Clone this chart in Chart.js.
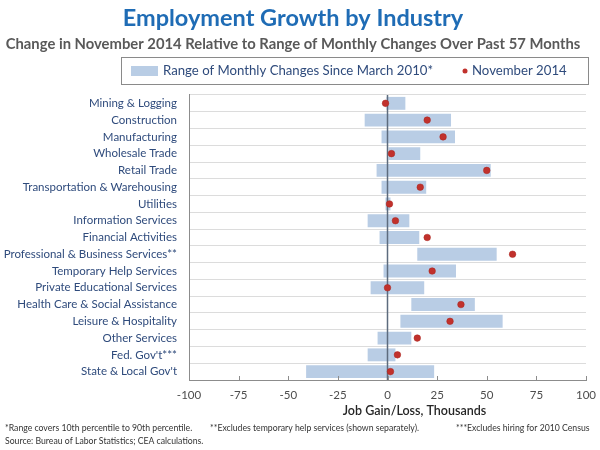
<!DOCTYPE html>
<html>
<head>
<meta charset="utf-8">
<title>Employment Growth by Industry</title>
<script src="https://cdn.jsdelivr.net/npm/chart.js@4.4.1/dist/chart.umd.min.js"></script>
<style>
    html, body { margin: 0; padding: 0; background: #ffffff; }
    #wrap { width: 600px; height: 450px; position: relative; }
</style>
</head>
<body>
<div id="wrap"><canvas id="chart"></canvas></div>
<script>
// === DATA ===
const industries = [
    "Mining & Logging", "Construction", "Manufacturing", "Wholesale Trade",
    "Retail Trade", "Transportation & Warehousing", "Utilities", "Information Services",
    "Financial Activities", "Professional & Business Services**", "Temporary Help Services",
    "Private Educational Services", "Health Care & Social Assistance", "Leisure & Hospitality",
    "Other Services", "Fed. Gov't***", "State & Local Gov't"
];
const rangeLow  = [-0.5, -11.5, -3, 0.5, -5.5, -3, -1, -10, -4, 15, -2, -8.5, 12, 6.5, -5, -10, -41];
const rangeHigh = [9, 32, 34, 16.5, 52, 19.5, 1.5, 11, 16, 55, 34.5, 18.5, 44, 58, 12, 4, 23.5];
const nov2014   = [-1, 20, 28, 2, 50, 16.5, 1, 4, 20, 63, 22.5, 0, 37, 31.5, 15, 5, 1.5];
const xTicks    = [-100, -75, -50, -25, 0, 25, 50, 75, 100];

const FONT = "Lato, 'Open Sans', sans-serif";
const BAR_COLOR = "#b9cde5";
const DOT_COLOR = "#c1312c";
const LABEL_COLOR = "#2f4b7c";

// floating bars need [low, high] pairs
const rangeBars = rangeLow.map((lo, i) => [lo, rangeHigh[i]]);

// === PLUGIN: zero line over the bars, inward ticks, legend box, footnotes ===
const extras = {
    id: "extras",
    afterDatasetDraw(chart, args) {
        if (args.index !== 0) return;
        const ctx = chart.ctx;
        const area = chart.chartArea;
        const x0 = chart.scales.x.getPixelForValue(0);
        ctx.save();
        ctx.strokeStyle = "#5d6b7e";
        ctx.lineWidth = 1.5;
        ctx.beginPath();
        ctx.moveTo(x0, area.top);
        ctx.lineTo(x0, area.bottom);
        ctx.stroke();
        ctx.restore();
    },
    afterDraw(chart) {
        const ctx = chart.ctx;
        const area = chart.chartArea;
        const xs = chart.scales.x;
        ctx.save();

        // small tick marks pointing up from the x axis
        ctx.strokeStyle = "#8c8c8c";
        ctx.lineWidth = 1;
        xTicks.forEach(v => {
            const px = Math.round(xs.getPixelForValue(v)) + 0.5;
            ctx.beginPath();
            ctx.moveTo(px, area.bottom - 4);
            ctx.lineTo(px, area.bottom);
            ctx.stroke();
        });

        // axis title, sits a bit right of centre like the original
        ctx.fillStyle = "#262626";
        ctx.font = "600 12.5px " + FONT;
        ctx.textAlign = "center";
        ctx.textBaseline = "middle";
        ctx.fillText("Job Gain/Loss, Thousands", (area.left + area.right) / 2 + 27, area.bottom + 31);

        // legend
        ctx.strokeStyle = "#8a8a8a";
        ctx.lineWidth = 1;
        ctx.strokeRect(121.5, 57.5, 467, 27);
        ctx.fillStyle = BAR_COLOR;
        ctx.fillRect(131, 66, 27, 10);
        ctx.fillStyle = LABEL_COLOR;
        ctx.font = "13.2px " + FONT;
        ctx.textAlign = "left";
        ctx.fillText("Range of Monthly Changes Since March 2010*", 163, 71);
        ctx.fillStyle = DOT_COLOR;
        ctx.beginPath();
        ctx.arc(465, 71, 2.5, 0, Math.PI * 2);
        ctx.fill();
        ctx.fillStyle = LABEL_COLOR;
        ctx.fillText("November 2014", 472, 71);

        // footnotes
        ctx.fillStyle = "#333333";
        ctx.font = "8.7px " + FONT;
        ctx.fillText("*Range covers 10th percentile to 90th percentile.", 5, 428);
        ctx.fillText("**Excludes temporary help services (shown separately).", 210, 428);
        ctx.fillText("***Excludes hiring for 2010 Census", 456, 428);
        ctx.fillText("Source: Bureau of Labor Statistics; CEA calculations.", 5, 441);
        ctx.restore();
    }
};

// === CHART ===
new Chart(document.getElementById("chart"), {
    type: "bar",
    data: {
        labels: industries,
        datasets: [{
            label: "Range of Monthly Changes Since March 2010*",
            data: rangeBars,
            backgroundColor: BAR_COLOR,
            borderWidth: 0,
            borderSkipped: false,
            barPercentage: 0.77,
            categoryPercentage: 1,
            order: 2
        }, {
            type: "line",
            label: "November 2014",
            data: nov2014,
            showLine: false,
            pointRadius: 3.3,
            pointBackgroundColor: DOT_COLOR,
            pointBorderColor: "#a8241f",
            pointBorderWidth: 0.5,
            order: 1
        }]
    },
    options: {
        indexAxis: "y",
        responsive: true,
        maintainAspectRatio: false,
        animation: false,
        layout: { padding: { left: 0, right: 14, top: 0, bottom: 40 } },
        plugins: {
            legend: { display: false },
            tooltip: { enabled: false },
            title: {
                display: true,
                text: "Employment Growth by Industry",
                color: "#1f6cb5",
                font: { family: FONT, size: 23.5, weight: "bold" },
                padding: { top: 4, bottom: 1 }
            },
            subtitle: {
                display: true,
                text: "Change in November 2014 Relative to Range of Monthly Changes Over Past 57 Months",
                color: "#595959",
                font: { family: FONT, size: 14.8, weight: "bold" },
                padding: { top: 2, bottom: 42 }
            }
        },
        scales: {
            x: {
                type: "linear",
                min: -100,
                max: 100,
                afterBuildTicks: scale => { scale.ticks = xTicks.map(v => ({ value: v })); },
                grid: { display: false, drawTicks: false },
                border: { display: true, color: "#8c8c8c", width: 1 },
                ticks: {
                    color: "#4d4d4d",
                    font: { family: FONT, size: 11.5 },
                    padding: 8,
                    maxRotation: 0
                },
                afterFit: scale => {
                    scale.height = 30;
                    scale.paddingLeft = 0;
                    scale.paddingRight = 0;
                }
            },
            y: {
                type: "category",
                grid: {
                    display: true,
                    offset: true,
                    color: "#dcdcdc",
                    drawTicks: false
                },
                border: { display: true, color: "#8c8c8c", width: 1 },
                ticks: {
                    color: LABEL_COLOR,
                    font: { family: FONT, size: 11.5 },
                    padding: 12,
                    autoSkip: false
                },
                afterFit: scale => { scale.width = 189; }
            }
        }
    },
    plugins: [extras]
});
</script>
</body>
</html>
